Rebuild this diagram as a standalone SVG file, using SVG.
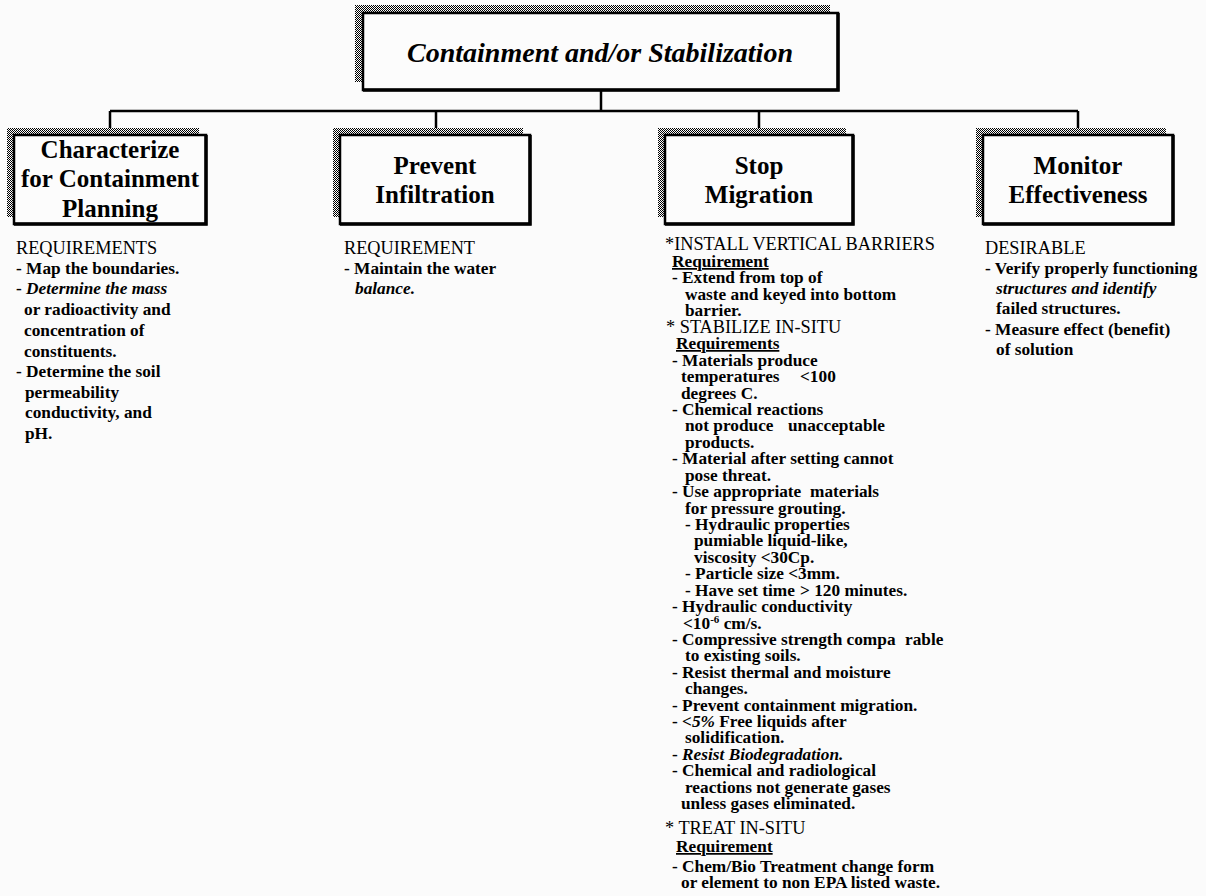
<svg xmlns="http://www.w3.org/2000/svg" width="1206" height="896" viewBox="0 0 1206 896">
<defs>
<pattern id="dither" width="2" height="2" patternUnits="userSpaceOnUse"><rect width="2" height="2" fill="#fff"/><rect width="1" height="1" fill="#000"/><rect x="1" y="1" width="1" height="1" fill="#000"/></pattern>
<style>
.shadow{fill:url(#dither)}
.box{fill:#fcfcfc;stroke:#000;stroke-width:2.5}
.edge{fill:none;stroke:#000;stroke-width:3.5}
.title{font-family:"Liberation Serif","Times New Roman",serif;font-weight:bold;font-style:italic;font-size:28px;text-anchor:middle}
.label{font-family:"Liberation Serif","Times New Roman",serif;font-weight:bold;font-size:25px;text-anchor:middle}
.body{font-family:"Liberation Serif","Times New Roman",serif;font-weight:bold;font-size:17.3px}
.head{font-family:"Liberation Serif","Times New Roman",serif;font-weight:normal;font-size:18.3px}
.it{font-style:italic}
.ul{text-decoration:underline}
.conn{fill:none;stroke:#000;stroke-width:2.5}
</style>
</defs>
<rect width="1206" height="896" fill="#fbfbfb"/>

<g id="connectors">
<path class="conn" d="M601 90V111M110 111H1078M110 111V128M436 111V128M759 111V128M1078 111V128"/>
</g>

<g id="node-root">
<rect class="shadow" x="355" y="5" width="475" height="77"/>
<rect class="box" x="363" y="13" width="475" height="77"/>
<path class="edge" d="M838 13V90H363"/>
<text class="title" x="600" y="62">Containment and/or Stabilization</text>
</g>

<g id="node-characterize">
<rect class="shadow" x="7" y="128" width="192" height="89"/>
<rect class="box" x="14" y="135" width="192" height="89"/>
<path class="edge" d="M206 135V224H14"/>
<text class="label" x="110" y="158">Characterize</text>
<text class="label" x="110" y="187">for Containment</text>
<text class="label" x="110" y="217">Planning</text>
</g>

<g id="node-prevent">
<rect class="shadow" x="333" y="128" width="190" height="89"/>
<rect class="box" x="340" y="135" width="190" height="89"/>
<path class="edge" d="M530 135V224H340"/>
<text class="label" x="435" y="174">Prevent</text>
<text class="label" x="435" y="203">Infiltration</text>
</g>

<g id="node-stop">
<rect class="shadow" x="658" y="128" width="188" height="89"/>
<rect class="box" x="665" y="135" width="188" height="89"/>
<path class="edge" d="M853 135V224H665"/>
<text class="label" x="759" y="174">Stop</text>
<text class="label" x="759" y="203">Migration</text>
</g>

<g id="node-monitor">
<rect class="shadow" x="976" y="128" width="190" height="89"/>
<rect class="box" x="983" y="135" width="190" height="89"/>
<path class="edge" d="M1173 135V224H983"/>
<text class="label" x="1078" y="174">Monitor</text>
<text class="label" x="1078" y="203">Effectiveness</text>
</g>

<g id="text-characterize">
<text class="head" x="16" y="254">REQUIREMENTS</text>
<text class="body" x="16" y="274">- Map the boundaries.</text>
<text class="body" x="16" y="294">- <tspan class="it">Determine the mass</tspan></text>
<text class="body" x="24" y="315">or radioactivity and</text>
<text class="body" x="24" y="336">concentration of</text>
<text class="body" x="24" y="357">constituents.</text>
<text class="body" x="16" y="377">- Determine the soil</text>
<text class="body" x="25" y="398">permeability</text>
<text class="body" x="25" y="418">conductivity, and</text>
<text class="body" x="25" y="439">pH.</text>
</g>

<g id="text-prevent">
<text class="head" x="344" y="254">REQUIREMENT</text>
<text class="body" x="344" y="274">- Maintain the water</text>
<text class="body it" x="355" y="294">balance.</text>
</g>

<g id="text-monitor">
<text class="head" x="985" y="254">DESIRABLE</text>
<text class="body" x="985" y="274">- Verify properly functioning</text>
<text class="body it" x="996" y="294">structures and identify</text>
<text class="body" x="996" y="314">failed structures.</text>
<text class="body" x="985" y="335">- Measure effect (benefit)</text>
<text class="body" x="996" y="355">of solution</text>
</g>

<g id="text-stop">
<text class="head" x="665" y="250">*INSTALL VERTICAL BARRIERS</text>
<text class="body ul" x="672" y="267">Requirement</text>
<text class="body" x="672" y="283">- Extend from top of</text>
<text class="body" x="685" y="300">waste and keyed into bottom</text>
<text class="body" x="685" y="316">barrier.</text>
<text class="head" x="666" y="333">* STABILIZE IN-SITU</text>
<text class="body ul" x="676" y="349">Requirements</text>
<text class="body" x="672" y="366">- Materials produce</text>
<text class="body" x="681" y="382">temperatures<tspan x="800">&lt;100</tspan></text>
<text class="body" x="681" y="399">degrees C.</text>
<text class="body" x="672" y="415">- Chemical reactions</text>
<text class="body" x="685" y="431">not produce<tspan x="788">unacceptable</tspan></text>
<text class="body" x="685" y="448">products.</text>
<text class="body" x="672" y="464">- Material after setting cannot</text>
<text class="body" x="685" y="481">pose threat.</text>
<text class="body" x="672" y="497">- Use appropriate<tspan x="810">materials</tspan></text>
<text class="body" x="685" y="514">for pressure grouting.</text>
<text class="body" x="685" y="530">- Hydraulic properties</text>
<text class="body" x="694" y="546">pumiable liquid-like,</text>
<text class="body" x="694" y="563">viscosity &lt;30Cp.</text>
<text class="body" x="685" y="579">- Particle size &lt;3mm.</text>
<text class="body" x="685" y="596">- Have set time<tspan x="800">&gt; 120 minutes.</tspan></text>
<text class="body" x="672" y="612">- Hydraulic conductivity</text>
<text class="body" x="683" y="629">&lt;10<tspan dy="-6" font-size="11">-6</tspan><tspan dy="6"> cm/s.</tspan></text>
<text class="body" x="672" y="645">- Compressive strength compa<tspan x="905">rable</tspan></text>
<text class="body" x="685" y="661">to existing soils.</text>
<text class="body" x="672" y="678">- Resist thermal and moisture</text>
<text class="body" x="685" y="694">changes.</text>
<text class="body" x="672" y="711">- Prevent containment migration.</text>
<text class="body" x="672" y="727">- <tspan class="it">&lt;5%</tspan> Free liquids after</text>
<text class="body" x="685" y="743">solidification.</text>
<text class="body" x="672" y="760">- <tspan class="it">Resist Biodegradation.</tspan></text>
<text class="body" x="672" y="776">- Chemical and radiological</text>
<text class="body" x="685" y="793">reactions not generate gases</text>
<text class="body" x="681" y="809">unless gases eliminated.</text>
<text class="head" x="665" y="834">* TREAT IN-SITU</text>
<text class="body ul" x="676" y="852">Requirement</text>
<text class="body" x="672" y="872">- Chem/Bio Treatment change form</text>
<text class="body" x="681" y="888">or element to non EPA listed waste.</text>
</g>
</svg>
